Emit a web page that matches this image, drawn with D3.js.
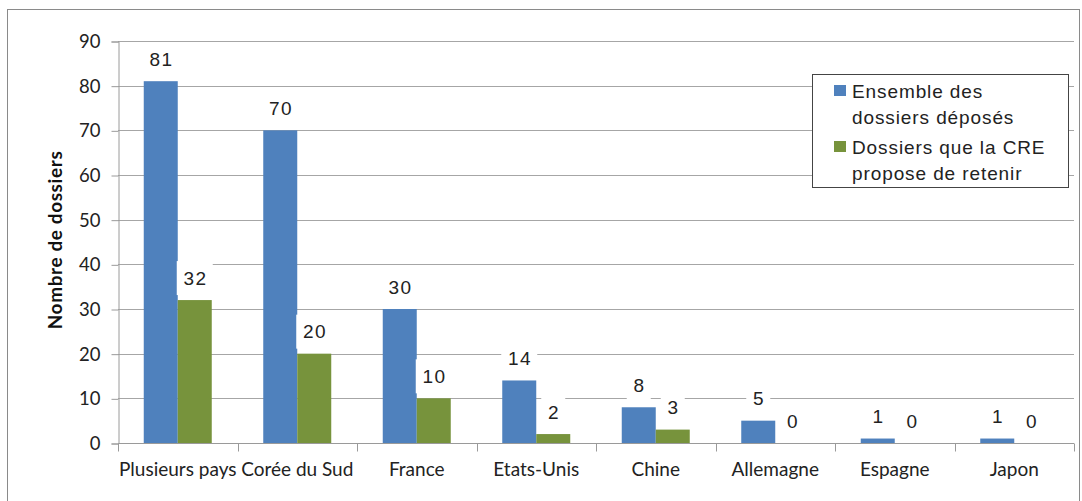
<!DOCTYPE html>
<html>
<head>
<meta charset="utf-8">
<script src="https://cdn.jsdelivr.net/npm/d3@7"></script>
<style>
  html, body { margin: 0; padding: 0; background: #fff; }
  svg { display: block; }
</style>
</head>
<body>
<svg id="chart" width="1082" height="501"></svg>
<script>
// Dossiers per country: all submissions vs. those the CRE proposes to retain
const categories = ["Plusieurs pays", "Corée du Sud", "France", "Etats-Unis", "Chine", "Allemagne", "Espagne", "Japon"];
const deposes = [81, 70, 30, 14, 8, 5, 1, 1];
const retenus = [32, 20, 10, 2, 3, 0, 0, 0];
const seriesNames = ["Ensemble des\ndossiers déposés", "Dossiers que la CRE\npropose de retenir"];
const seriesColors = ["#4F81BD", "#77933C"];
const yTicks = [0, 10, 20, 30, 40, 50, 60, 70, 80, 90];
const yTitle = "Nombre de dossiers";

const svg = d3.select("#chart");
const plot = { left: 118, right: 1074, top: 41, bottom: 443 };

// outer frame
svg.append("rect")
  .attr("x", 7.5).attr("y", 9.5)
  .attr("width", 1072).attr("height", 520)
  .attr("fill", "#fff").attr("stroke", "#8a8a8a").attr("stroke-width", 1);

const x = d3.scaleBand().domain(categories).range([plot.left, plot.right]).padding(0);
const y = d3.scaleLinear().domain([0, 90]).range([plot.bottom, plot.top]);
// two bars per category, side by side, centred in the band
const barW = 34;
const xs = d3.scaleBand().domain([0, 1])
  .range([x.bandwidth() / 2 - barW, x.bandwidth() / 2 + barW]).padding(0);

// horizontal gridlines
svg.append("g")
  .selectAll("line")
  .data(yTicks.filter(t => t > 0))
  .join("line")
  .attr("x1", plot.left).attr("x2", plot.right)
  .attr("y1", d => Math.round(y(d)) + 0.5).attr("y2", d => Math.round(y(d)) + 0.5)
  .attr("stroke", "#a6a6a6").attr("stroke-width", 1);

// y axis
const yAxis = d3.axisLeft(y).tickValues(yTicks).tickSize(7).tickPadding(11);
const gy = svg.append("g").attr("transform", `translate(${plot.left + 0.5},0.5)`).call(yAxis);
gy.select(".domain").attr("stroke", "#9a9a9a");
gy.selectAll(".tick line").attr("stroke", "#9a9a9a");
gy.selectAll(".tick text")
  .attr("font-family", "Lato, sans-serif").attr("font-size", 18.5).attr("fill", "#222");

// x axis with ticks between categories
const gx = svg.append("g").attr("transform", `translate(0,${plot.bottom + 0.5})`);
gx.append("line").attr("x1", plot.left).attr("x2", plot.right).attr("stroke", "#9a9a9a");
gx.selectAll("line.tk")
  .data(d3.range(categories.length + 1))
  .join("line").attr("class", "tk")
  .attr("x1", i => Math.round(plot.left + i * x.bandwidth()) + 0.5)
  .attr("x2", i => Math.round(plot.left + i * x.bandwidth()) + 0.5)
  .attr("y1", 0).attr("y2", 8)
  .attr("stroke", "#9a9a9a");
gx.selectAll("text")
  .data(categories)
  .join("text")
  .attr("x", d => x(d) + x.bandwidth() / 2)
  .attr("y", 28)
  .attr("text-anchor", "middle")
  .attr("dominant-baseline", "middle")
  .attr("font-family", "Lato, sans-serif").attr("font-size", 19).attr("fill", "#222")
  .text(d => d);

// y axis title
svg.append("text")
  .attr("transform", `translate(57,240) rotate(-90)`)
  .attr("text-anchor", "middle")
  .attr("dominant-baseline", "middle")
  .attr("font-family", "Lato, sans-serif").attr("font-size", 19).attr("font-weight", "bold")
  .attr("letter-spacing", 0.6)
  .attr("fill", "#111")
  .text(yTitle);

// bars
const series = [deposes, retenus];
const rows = [];
series.forEach((vals, s) => vals.forEach((v, i) => rows.push({ s, cat: categories[i], v })));

svg.append("g")
  .selectAll("rect")
  .data(rows)
  .join("rect")
  .attr("x", d => x(d.cat) + xs(d.s))
  .attr("width", xs.bandwidth())
  .attr("y", d => y(d.v))
  .attr("height", d => y(0) - y(d.v))
  .attr("fill", d => seriesColors[d.s]);

// value labels on white boxes
const lbl = svg.append("g");
rows.forEach(d => {
  const cx = x(d.cat) + xs(d.s) + xs.bandwidth() / 2;
  const cy = y(d.v) - 22;
  const txt = String(d.v);
  const w = txt.length * 12 + 12;
  lbl.append("rect")
    .attr("x", cx - w / 2).attr("y", cy - 17)
    .attr("width", w).attr("height", 34)
    .attr("fill", "#fff");
  lbl.append("text")
    .attr("x", cx + 0.7).attr("y", cy)
    .attr("text-anchor", "middle")
    .attr("dominant-baseline", "central")
    .attr("font-family", "'Liberation Sans', Arial, sans-serif")
    .attr("font-size", 19).attr("letter-spacing", 1.4)
    .attr("fill", "#222")
    .text(txt);
});

// legend
const leg = svg.append("g");
leg.append("rect")
  .attr("x", 812.5).attr("y", 74.5).attr("width", 256).attr("height", 113)
  .attr("fill", "#fff").attr("stroke", "#444").attr("stroke-width", 1);
const entryY = [91, 147];
seriesNames.forEach((name, s) => {
  leg.append("rect")
    .attr("x", 834).attr("y", entryY[s] - 6).attr("width", 12).attr("height", 11)
    .attr("fill", seriesColors[s]);
  name.split("\n").forEach((line, k) => {
    leg.append("text")
      .attr("x", 852).attr("y", entryY[s] + k * 26)
      .attr("dominant-baseline", "central")
      .attr("font-family", "'Liberation Sans', Arial, sans-serif")
      .attr("font-size", 19).attr("letter-spacing", 0.9)
      .attr("fill", "#222")
      .text(line);
  });
});
</script>
</body>
</html>
